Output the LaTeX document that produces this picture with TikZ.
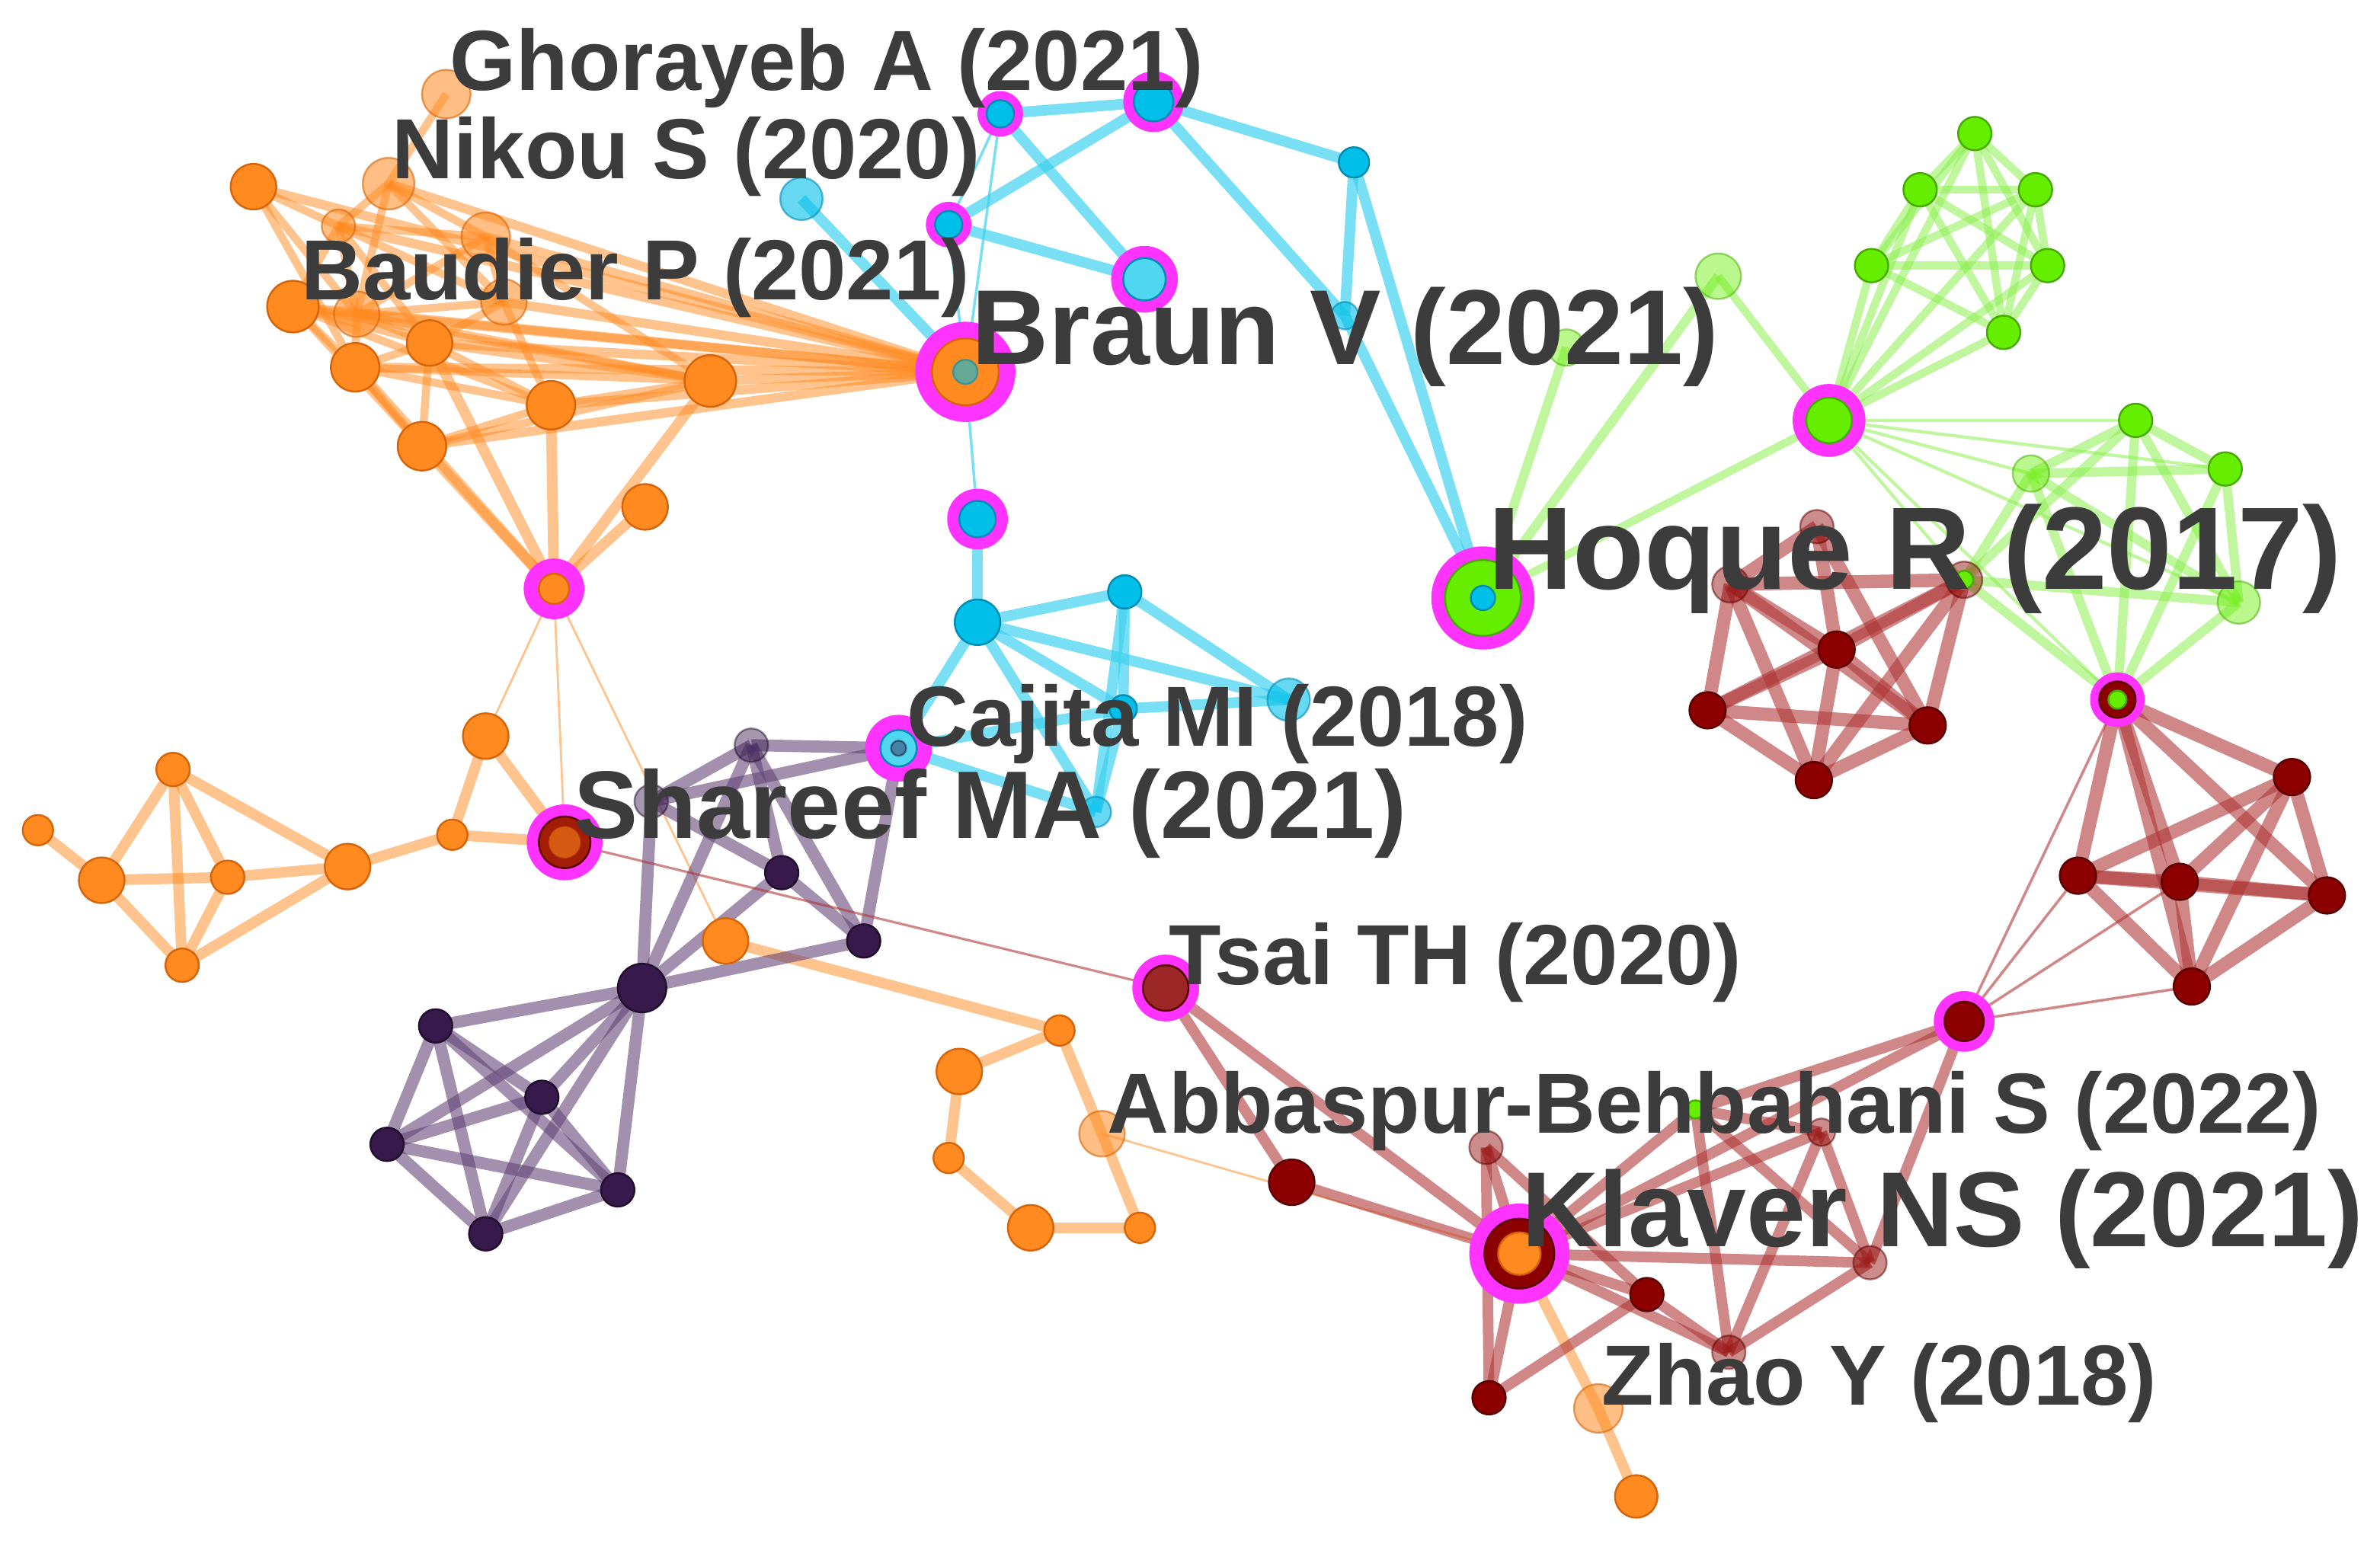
\documentclass[tikz,border=0pt]{standalone}
\usepackage{fontspec}
\setmainfont{Liberation Sans}
\pgfdeclarelayer{bgw}
\pgfdeclarelayer{bg}
\pgfsetlayers{bgw,bg,main}
\definecolor{orng}{RGB}{255,138,31}
\definecolor{orngd}{RGB}{214,100,10}
\definecolor{cy}{RGB}{0,191,232}
\definecolor{cyd}{RGB}{0,140,180}
\definecolor{cyl}{RGB}{80,215,240}
\definecolor{cye}{RGB}{64,210,240}
\definecolor{grn}{RGB}{102,238,0}
\definecolor{grnd}{RGB}{70,170,0}
\definecolor{grne}{RGB}{140,240,80}
\definecolor{drd}{RGB}{140,0,0}
\definecolor{drdd}{RGB}{90,0,0}
\definecolor{dre}{RGB}{175,55,55}
\definecolor{prp}{RGB}{55,25,75}
\definecolor{prpe}{RGB}{100,70,120}
\definecolor{mag}{RGB}{255,51,255}
\definecolor{txt}{RGB}{60,60,60}
\tikzset{
 nd/.style={circle,inner sep=0pt,line width=0.7pt},
 onode/.style={nd,fill=orng,draw=orngd,minimum size=#1*0.4mm},
 onodel/.style={onode=#1,fill opacity=0.55,draw opacity=0.6},
 cnode/.style={nd,fill=cy,draw=cyd,minimum size=#1*0.4mm},
 cnodel/.style={cnode=#1,fill opacity=0.6,draw opacity=0.6},
 cnodep/.style={cnode=#1,fill=cyl},
 gnode/.style={nd,fill=grn,draw=grnd,minimum size=#1*0.4mm},
 gnodel/.style={gnode=#1,fill opacity=0.45,draw opacity=0.5},
 rnode/.style={nd,fill=drd,draw=drdd,minimum size=#1*0.4mm},
 rnodel/.style={rnode=#1,fill opacity=0.45,draw opacity=0.5},
 pnode/.style={nd,fill=prp,draw=prp!60!black,minimum size=#1*0.4mm},
 pnodel/.style={pnode=#1,fill opacity=0.45,draw opacity=0.5},
 mring/.style={circle,inner sep=0pt,fill=mag,minimum size=#1*0.4mm},
 oedge/.style={draw=orng,draw opacity=0.5,line width=#1pt},
 cedge/.style={draw=cye,draw opacity=0.7,line width=#1pt},
 gedge/.style={draw=grne,draw opacity=0.55,line width=#1pt},
 redge/.style={draw=dre,draw opacity=0.6,line width=#1pt},
 pedge/.style={draw=prpe,draw opacity=0.6,line width=#1pt},
 lbl/.style={inner sep=0pt,anchor=west,text=txt,font=\fontsize{#1}{#1}\selectfont\bfseries},
}
\begin{document}
\begin{tikzpicture}[x=0.02cm,y=-0.02cm]
\useasboundingbox (0,0) rectangle (1568,1015);
\begin{pgfonlayer}{bgw}
\fill[white] (0,0) rectangle (1568,1015);
\end{pgfonlayer}
% ---------- orange top cluster
\node[onodel=16] (oa) at (294,62) {};
\node[onode=15] (ob) at (167,123) {};
\node[onodel=17] (oc) at (256,121) {};
\node[onodel=11] (od) at (223,149) {};
\node[onodel=16] (oe) at (320,156) {};
\node[onode=17] (of) at (193,202) {};
\node[onodel=15] (og) at (235,207) {};
\node[onodel=15] (oh) at (332,199) {};
\node[onode=15] (oi) at (283,226) {};
\node[onode=16] (oj) at (234,242) {};
\node[onode=16] (ok) at (363,267) {};
\node[onode=17] (ol) at (468,251) {};
\node[onode=16] (om) at (278,294) {};
\node[onode=15] (onn) at (425,334) {};
\node[mring=20] (ohub) at (365,388) {};
\node[onode=10] (ohubI) at (365,388) {};
% ---------- orange left
\node[onode=10] (ol1) at (25,547) {};
\node[onode=15] (ol2) at (67,580) {};
\node[onode=11] (ol3) at (114,507) {};
\node[onode=11] (ol4) at (150,578) {};
\node[onode=11] (ol5) at (120,636) {};
\node[onode=15] (ol6) at (229,571) {};
\node[onode=10] (ol7) at (298,550) {};
\node[onode=15] (ol8) at (320,485) {};
\node[onode=15] (ol9) at (478,620) {};
% ---------- orange bottom ring
\node[onode=10] (or1) at (698,679) {};
\node[onode=15] (or2) at (632,706) {};
\node[onodel=15] (or3) at (726,747) {};
\node[onode=10] (or4) at (625,763) {};
\node[onode=15] (or5) at (679,809) {};
\node[onode=10] (or6) at (751,809) {};
\node[onodel=16] (oz1) at (1053,928) {};
\node[onode=14] (oz2) at (1078,986) {};
% ---------- cyan top
\node[mring=15] (ca) at (659,75) {};
\node[cnode=9] (caI) at (659,75) {};
\node[mring=20] (cb) at (760,67) {};
\node[cnode=13] (cbI) at (760,67) {};
\node[cnode=10] (cc) at (892,107) {};
\node[mring=15] (cd) at (625,148) {};
\node[cnode=9] (cdI) at (625,148) {};
\node[mring=22] (ce) at (754,184) {};
\node[cnodep=14] (ceI) at (754,184) {};
\node[cnodel=14] (cf) at (528,131) {};
\node[cnodel=9] (cg) at (886,208) {};
% Braun
\node[mring=33] (br) at (636,245) {};
\node[onode=22] (brI) at (636,245) {};
\node[cnodel=8] (brC) at (636,245) {};
% ---------- cyan bottom
\node[mring=20] (ch) at (644,342) {};
\node[cnode=12] (chI) at (644,342) {};
\node[cnode=15] (ci) at (644,410) {};
\node[cnode=11] (cj) at (741,390) {};
\node[cnodel=14] (ck) at (849,461) {};
\node[cnode=9] (cl) at (740,467) {};
\node[cnodel=10] (cm) at (722,535) {};
\node[mring=22] (cn) at (592,493) {};
\node[cnodep=12] (cnI) at (592,493) {};
\node[pnodel=5] (cnC) at (592,493) {};
% ---------- purple
\node[pnodel=11] (pa) at (495,491) {};
\node[pnodel=11] (pb) at (429,528) {};
\node[pnode=11] (pc) at (515,575) {};
\node[pnode=11] (pd) at (569,620) {};
\node[pnode=16] (ph) at (423,651) {};
\node[pnode=11] (pe) at (287,676) {};
\node[pnode=11] (pf) at (357,723) {};
\node[pnode=11] (pg) at (255,754) {};
\node[pnode=11] (pi) at (407,784) {};
\node[pnode=11] (pj) at (320,813) {};
% Shareef
\node[mring=25] (sh) at (372,555) {};
\node[rnode=17,fill=drd!80!orng] (shI) at (372,555) {};
\node[onodel=10] (shC) at (372,555) {};
% ---------- green
\node[gnodel=12] (gf) at (1032,229) {};
\node[gnodel=15] (gl) at (1132,182) {};
\node[mring=24] (gh) at (1205,277) {};
\node[gnode=15] (ghI) at (1205,277) {};
\node[gnode=11] (g1) at (1301,88) {};
\node[gnode=11] (g2) at (1265,125) {};
\node[gnode=11] (g3) at (1341,125) {};
\node[gnode=11] (g4) at (1233,175) {};
\node[gnode=11] (g5) at (1349,175) {};
\node[gnode=11] (g6) at (1320,219) {};
\node[gnode=11] (g7) at (1407,277) {};
\node[gnodel=12] (g8) at (1338,312) {};
\node[gnode=11] (g9) at (1466,309) {};
\node[gnodel=14] (g10) at (1475,397) {};
\node[mring=18] (gl2) at (1395,461) {};
\node[rnode=12] (gl2I) at (1395,461) {};
\node[gnode=6] (gl2C) at (1395,461) {};
% Hoque
\node[mring=34] (hq) at (977,394) {};
\node[gnode=25] (hqI) at (977,394) {};
\node[cnode=8] (hqC) at (977,394) {};
% ---------- dark red under Hoque
\node[rnodel=12] (r1) at (1140,385) {};
\node[rnodel=12] (r2) at (1294,382) {};
\node[gnode=6] (r2C) at (1294,382) {};
\node[rnode=12] (r3) at (1210,428) {};
\node[rnode=12] (r4) at (1125,468) {};
\node[rnode=12] (r5) at (1270,478) {};
\node[rnode=12] (r6) at (1195,514) {};
\node[rnodel=11] (r7) at (1197,347) {};
% ---------- right red cluster
\node[rnode=12] (s1) at (1510,512) {};
\node[rnode=12] (s2) at (1369,577) {};
\node[rnode=12] (s3) at (1436,581) {};
\node[rnode=12] (s4) at (1533,590) {};
\node[rnode=12] (s5) at (1444,650) {};
\node[mring=20] (rh) at (1294,673) {};
\node[rnode=13] (rhI) at (1294,673) {};
% ---------- Klaver region
\node[mring=22] (ts) at (768,651) {};
\node[rnode=15,fill=drd!85!white] (tsI) at (768,651) {};
\node[rnode=15] (k1) at (851,779) {};
\node[rnodel=11] (k2) at (979,756) {};
\node[rnode=11] (k3) at (1085,853) {};
\node[rnodel=11] (k4) at (1139,891) {};
\node[rnodel=11] (k5) at (1232,832) {};
\node[rnode=11] (k6) at (981,921) {};
\node[gnode=6] (k7) at (1117,731) {};
\node[rnodel=9] (k8) at (1200,746) {};
\node[mring=33] (kl) at (1001,826) {};
\node[rnode=23] (klI) at (1001,826) {};
\node[onode=14] (klC) at (1001,826) {};

\begin{pgfonlayer}{bg}
% orange top internal
\foreach \a/\b in {ob/od,ob/og,ob/oj,oa/oc,oc/od,oc/oe,oc/og,oc/oh,od/oe,od/of,od/og,od/oi,od/oh,oe/oh,oe/og,of/og,of/oj,of/oi,of/om,of/ok,og/oi,og/oj,og/oh,oh/oi,oh/ok,oi/oj,oi/ok,oi/om,oj/om,oj/ok,ok/om,ok/ol,om/ol,oj/ol,oi/ol,og/ol,of/ol,oe/ol}
  \draw[oedge=3] (\a.center) -- (\b.center);
\foreach \a in {ob,oc,od,oe,of,og,oh,oi,oj,ok,ol,om}
  \draw[oedge=3.5] (\a.center) -- (br.center);
\foreach \a in {oj,om,oi,ok,ol,onn}
  \draw[oedge=4] (\a.center) -- (ohub.center);
\foreach \a in {ol8,sh,ol9}
  \draw[oedge=0.8] (ohub.center) -- (\a.center);
% orange left
\foreach \a/\b in {ol1/ol2,ol2/ol3,ol2/ol4,ol2/ol5,ol3/ol4,ol3/ol5,ol3/ol6,ol4/ol5,ol4/ol6,ol5/ol6,ol6/ol7,ol7/ol8,ol7/sh,ol8/sh}
  \draw[oedge=4] (\a.center) -- (\b.center);
\foreach \a/\b in {ol9/or1,or1/or2,or2/or4,or4/or5,or5/or6,or6/or3,or3/or1,kl/oz1,oz1/oz2}
  \draw[oedge=4] (\a.center) -- (\b.center);
\draw[oedge=0.8] (or3.center) -- (kl.center);
% cyan
\foreach \a/\b in {ca/cb,ca/ce,cb/cd,cd/ce,cb/cc,cb/cg,cc/cg,cc/hq,cg/hq,cf/br}
  \draw[cedge=4] (\a.center) -- (\b.center);
\foreach \a/\b in {ca/br,cd/br,br/ch,ca/cd}
  \draw[cedge=1] (\a.center) -- (\b.center);
\foreach \a/\b in {ch/ci,ci/cj,ci/cl,ci/cn,cj/cl,cj/ck,cj/cm,cl/ck,cl/cn,cl/cm,ci/ck,cn/cm,ci/cm}
  \draw[cedge=4] (\a.center) -- (\b.center);
% purple
\foreach \a/\b in {pa/cn,pa/pb,pa/pc,pa/pd,pa/ph,pb/pc,pb/ph,pc/ph,pc/pd,pd/ph,pd/cn,pb/cn}
  \draw[pedge=4.5] (\a.center) -- (\b.center);
\foreach \a/\b in {ph/pe,ph/pf,ph/pg,ph/pi,ph/pj,pe/pf,pe/pg,pe/pi,pe/pj,pf/pg,pf/pi,pf/pj,pg/pi,pg/pj,pi/pj}
  \draw[pedge=4.5] (\a.center) -- (\b.center);
\draw[redge=0.9] (sh.center) -- (ts.center);
% green
\foreach \a/\b in {g1/g2,g1/g3,g1/g4,g1/g5,g1/g6,g2/g3,g2/g4,g2/g5,g2/g6,g3/g4,g3/g5,g3/g6,g4/g5,g4/g6,g5/g6}
  \draw[gedge=3] (\a.center) -- (\b.center);
\foreach \a in {g1,g2,g3,g4,g5,g6,gl,hq}
  \draw[gedge=3] (gh.center) -- (\a.center);
\foreach \a in {g7,g8,g9,g10,r2,gl2}
  \draw[gedge=1.2] (gh.center) -- (\a.center);
\foreach \a/\b in {hq/gl,hq/gf,g7/g8,g7/g9,g7/g10,g8/g9,g8/g10,g9/g10,g8/r2,g7/r2,r2/g10,g7/gl2,g8/gl2,g9/gl2,g10/gl2,r2/gl2}
  \draw[gedge=3.5] (\a.center) -- (\b.center);
% dark red under Hoque
\foreach \a/\b in {r1/r3,r1/r4,r1/r5,r1/r6,r1/r7,r1/r2,r2/r3,r2/r4,r2/r5,r2/r6,r7/r3,r7/r5,r3/r4,r3/r5,r3/r6,r4/r5,r4/r6,r5/r6}
  \draw[redge=5] (\a.center) -- (\b.center);
% right red cluster
\foreach \a/\b in {s1/s2,s1/s3,s1/s4,s1/s5,s2/s3,s2/s4,s2/s5,s3/s4,s3/s5,s4/s5,gl2/s1,gl2/s2,gl2/s3,gl2/s4,gl2/s5}
  \draw[redge=5] (\a.center) -- (\b.center);
\foreach \a in {gl2,s2,s3,s5}
  \draw[redge=1] (rh.center) -- (\a.center);
% Klaver region
\foreach \a/\b in {ts/k1,k1/kl,ts/kl,kl/k2,kl/k3,kl/k4,kl/k5,kl/k6,kl/k7,kl/k8,k2/k6,k6/k3,k3/k4,k4/k5,k5/k8,k7/k4,k7/k5,k8/k4,rh/k7,rh/k5,rh/kl,k7/k8,k2/k3}
  \draw[redge=4] (\a.center) -- (\b.center);
\end{pgfonlayer}

% ---------- labels
\node[lbl=32] (t1) at (296,45) {Ghorayeb A (2021)};
\node[lbl=32] (t2) at (258,103) {Nikou S (2020)};
\node[lbl=32] (t3) at (198,183) {Baudier P (2021)};
\node[lbl=40] (t4) at (640,222) {Braun V (2021)};
\node[lbl=44] (t5) at (980,368) {Hoque R (2017)};
\node[lbl=32] (t6) at (597,477) {Cajita MI (2018)};
\node[lbl=36] (t7) at (378,536) {Shareef MA (2021)};
\node[lbl=32] (t8) at (770,634) {Tsai TH (2020)};
\node[lbl=32] (t9) at (729,732) {Abbaspur-Behbahani S (2022)};
\node[lbl=40] (t10) at (1002,803) {Klaver NS (2021)};
\node[lbl=32] (t11) at (1055,911) {Zhao Y (2018)};
\end{tikzpicture}
\end{document}
